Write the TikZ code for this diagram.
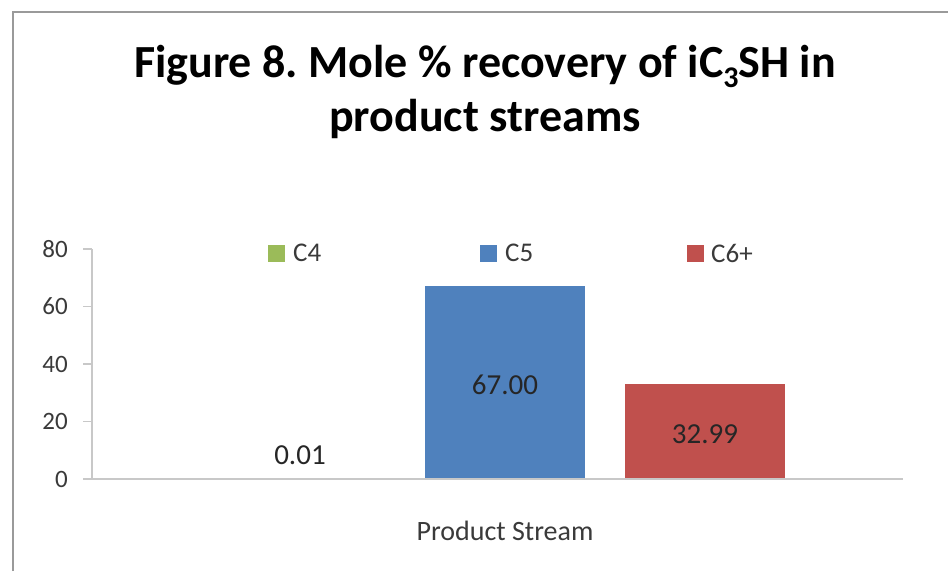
\documentclass[tikz,border=0pt]{standalone}
\usepackage{fontspec}
\setmainfont{Carlito}
\usepackage{tikz}
\usetikzlibrary{positioning}
\frenchspacing

\definecolor{cfour}{HTML}{9BBB59}
\definecolor{cfive}{HTML}{4F81BD}
\definecolor{csix}{HTML}{C0504D}
\definecolor{axisgray}{HTML}{C8C8C8}
\definecolor{framegray}{HTML}{9A9A9A}
\definecolor{labelgray}{HTML}{3A3A3A}

\begin{document}
\begin{tikzpicture}[x=1pt,y=-1pt,
    titlefont/.style={font=\fontsize{46}{53}\selectfont\bfseries,inner sep=0pt,anchor=base},
    ticklabel/.style={anchor=east,inner sep=0pt,text=labelgray,font=\fontsize{25}{30}\selectfont},
    datalabel/.style={inner sep=0pt,text=black!85,font=\fontsize{29}{34}\selectfont},
    legendkey/.style={minimum size=17pt,inner sep=0pt},
    legendtext/.style={anchor=west,inner sep=0pt,text=labelgray,font=\fontsize{27}{32}\selectfont}]
          \useasboundingbox (0,0) rectangle (948,571);
          \fill[white] (0,0) rectangle (948,571);
          \draw[framegray,line width=2pt] (13,571) -- (13,12) -- (948,12);

          % title
          \node[titlefont] (title) at (485,77)
            {Figure 8. Mole \% recovery of iC\raisebox{-10pt}{\fontsize{30}{30}\selectfont 3}SH in};
          \node[titlefont] (subtitle) at (485,131) {product streams};

          % bars
          \foreach \xl/\val/\col in {225/0.01/cfour,425/67.00/cfive,625/32.99/csix} {
            \fill[\col] (\xl,479) rectangle ++(160,-2.875*\val);
          }
          \node[datalabel] (lfour) at (300,455) {0.01};
          \node[datalabel] (lfive) at (505,385) {67.00};
          \node[datalabel] (lsix) at (705,434) {32.99};

          % axes
          \draw[axisgray,line width=2pt] (92,249) -- (92,479);
          \draw[axisgray,line width=2pt] (83,479) -- (903,479);
          \foreach \v in {0,20,...,80} {
            \draw[axisgray,line width=1.5pt] (83,479-2.875*\v) -- (92,479-2.875*\v);
            \node[ticklabel] (tick\v) at (68,479-2.875*\v) {\v};
          }

          % legend
          \node[legendkey,fill=cfour] (kfour) at (276,253) {};
          \node[legendtext] (tfour) at (293,253) {C4};
          \node[legendkey,fill=cfive] (kfive) at (488,253) {};
          \node[legendtext] (tfive) at (505,253) {C5};
          \node[legendkey,fill=csix] (ksix) at (695,253) {};
          \node[legendtext] (tsix) at (711,253) {C6+};

          \node[legendtext,anchor=center,font=\fontsize{28}{32}\selectfont] (xlabel) at (505,531) {Product Stream};
        \end{tikzpicture}
\end{document}
